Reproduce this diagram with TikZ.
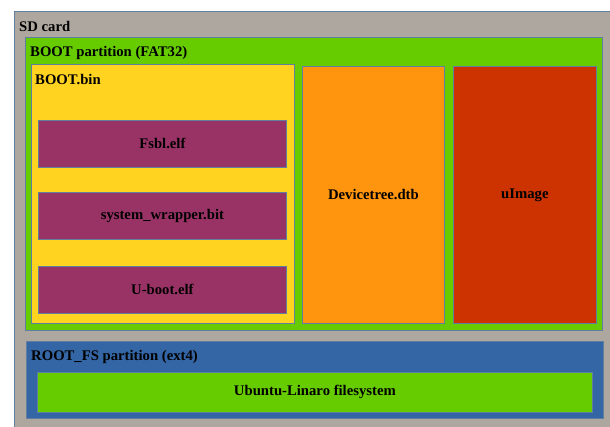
\documentclass[tikz,border=0pt]{standalone}
\usepackage{xcolor}
\usepackage{fontspec}
\setmainfont{Liberation Serif}
\usepackage{tikz}
\usetikzlibrary{positioning}

\definecolor{edge}{RGB}{96,126,160}
\definecolor{sdgray}{RGB}{174,167,159}
\definecolor{fatgreen}{RGB}{102,204,0}
\definecolor{binyellow}{RGB}{255,211,32}
\definecolor{elfpurple}{RGB}{153,51,102}
\definecolor{dtborange}{RGB}{255,149,14}
\definecolor{imgred}{RGB}{204,51,0}
\definecolor{fsblue}{RGB}{52,101,164}

\begin{document}
\begin{tikzpicture}[
			x = 1pt, y = -1pt,
			part/.style = {draw = edge, line width = 0.8pt, inner sep = 0pt, anchor = north west},
			title/.style = {font = \bfseries\fontsize{14.7}{16}\selectfont, anchor = base west, inner sep = 0pt},
			file/.style = {part, font = \bfseries\fontsize{14.7}{16}\selectfont}]

			\useasboundingbox (0,0) rectangle (610,426);
			\clip (0,0) rectangle (610,426);

			% card and partitions
			\node[part, fill = sdgray, minimum width = 620pt, minimum height = 440pt] (sd) at (14,11) {};
			\node[part, fill = fatgreen, minimum width = 577pt, minimum height = 293pt] (boot) at (25,37) {};
			\node[part, fill = fsblue, minimum width = 577pt, minimum height = 77pt] (rootfs) at (26,341) {};

			% BOOT partition contents
			\node[part, fill = binyellow, minimum width = 263pt, minimum height = 259pt] (bootbin) at (31,64) {};
			\node[file, fill = elfpurple, minimum width = 248pt, minimum height = 47pt] (fsbl) at (38,120) {Fsbl.elf};
			\node[file, fill = elfpurple, minimum width = 248pt, minimum height = 47pt] (sysw) at (38,192) {system\_wrapper.bit};
			\node[file, fill = elfpurple, minimum width = 248pt, minimum height = 47pt] (uboot) at (38,266) {U-boot.elf};
			\node[file, fill = dtborange, minimum width = 142pt, minimum height = 257pt] (dtb) at (302,66) {Devicetree.dtb};
			\node[file, fill = imgred, minimum width = 143pt, minimum height = 257pt] (uimage) at (453,66) {uImage};

			% ROOT_FS contents
			\node[file, fill = fatgreen, minimum width = 555pt, minimum height = 40pt] (ubuntu) at (37,372) {Ubuntu-Linaro filesystem};

			% titles
			\node[title] (sdname) at (19,31.5) {SD card};
			\node[title] (bootname) at (30,56.5) {BOOT partition (FAT32)};
			\node[title] (binname) at (35,84) {BOOT.bin};
			\node[title] (rootname) at (31,360.5) {ROOT\_FS partition (ext4)};

		\end{tikzpicture}
\end{document}
